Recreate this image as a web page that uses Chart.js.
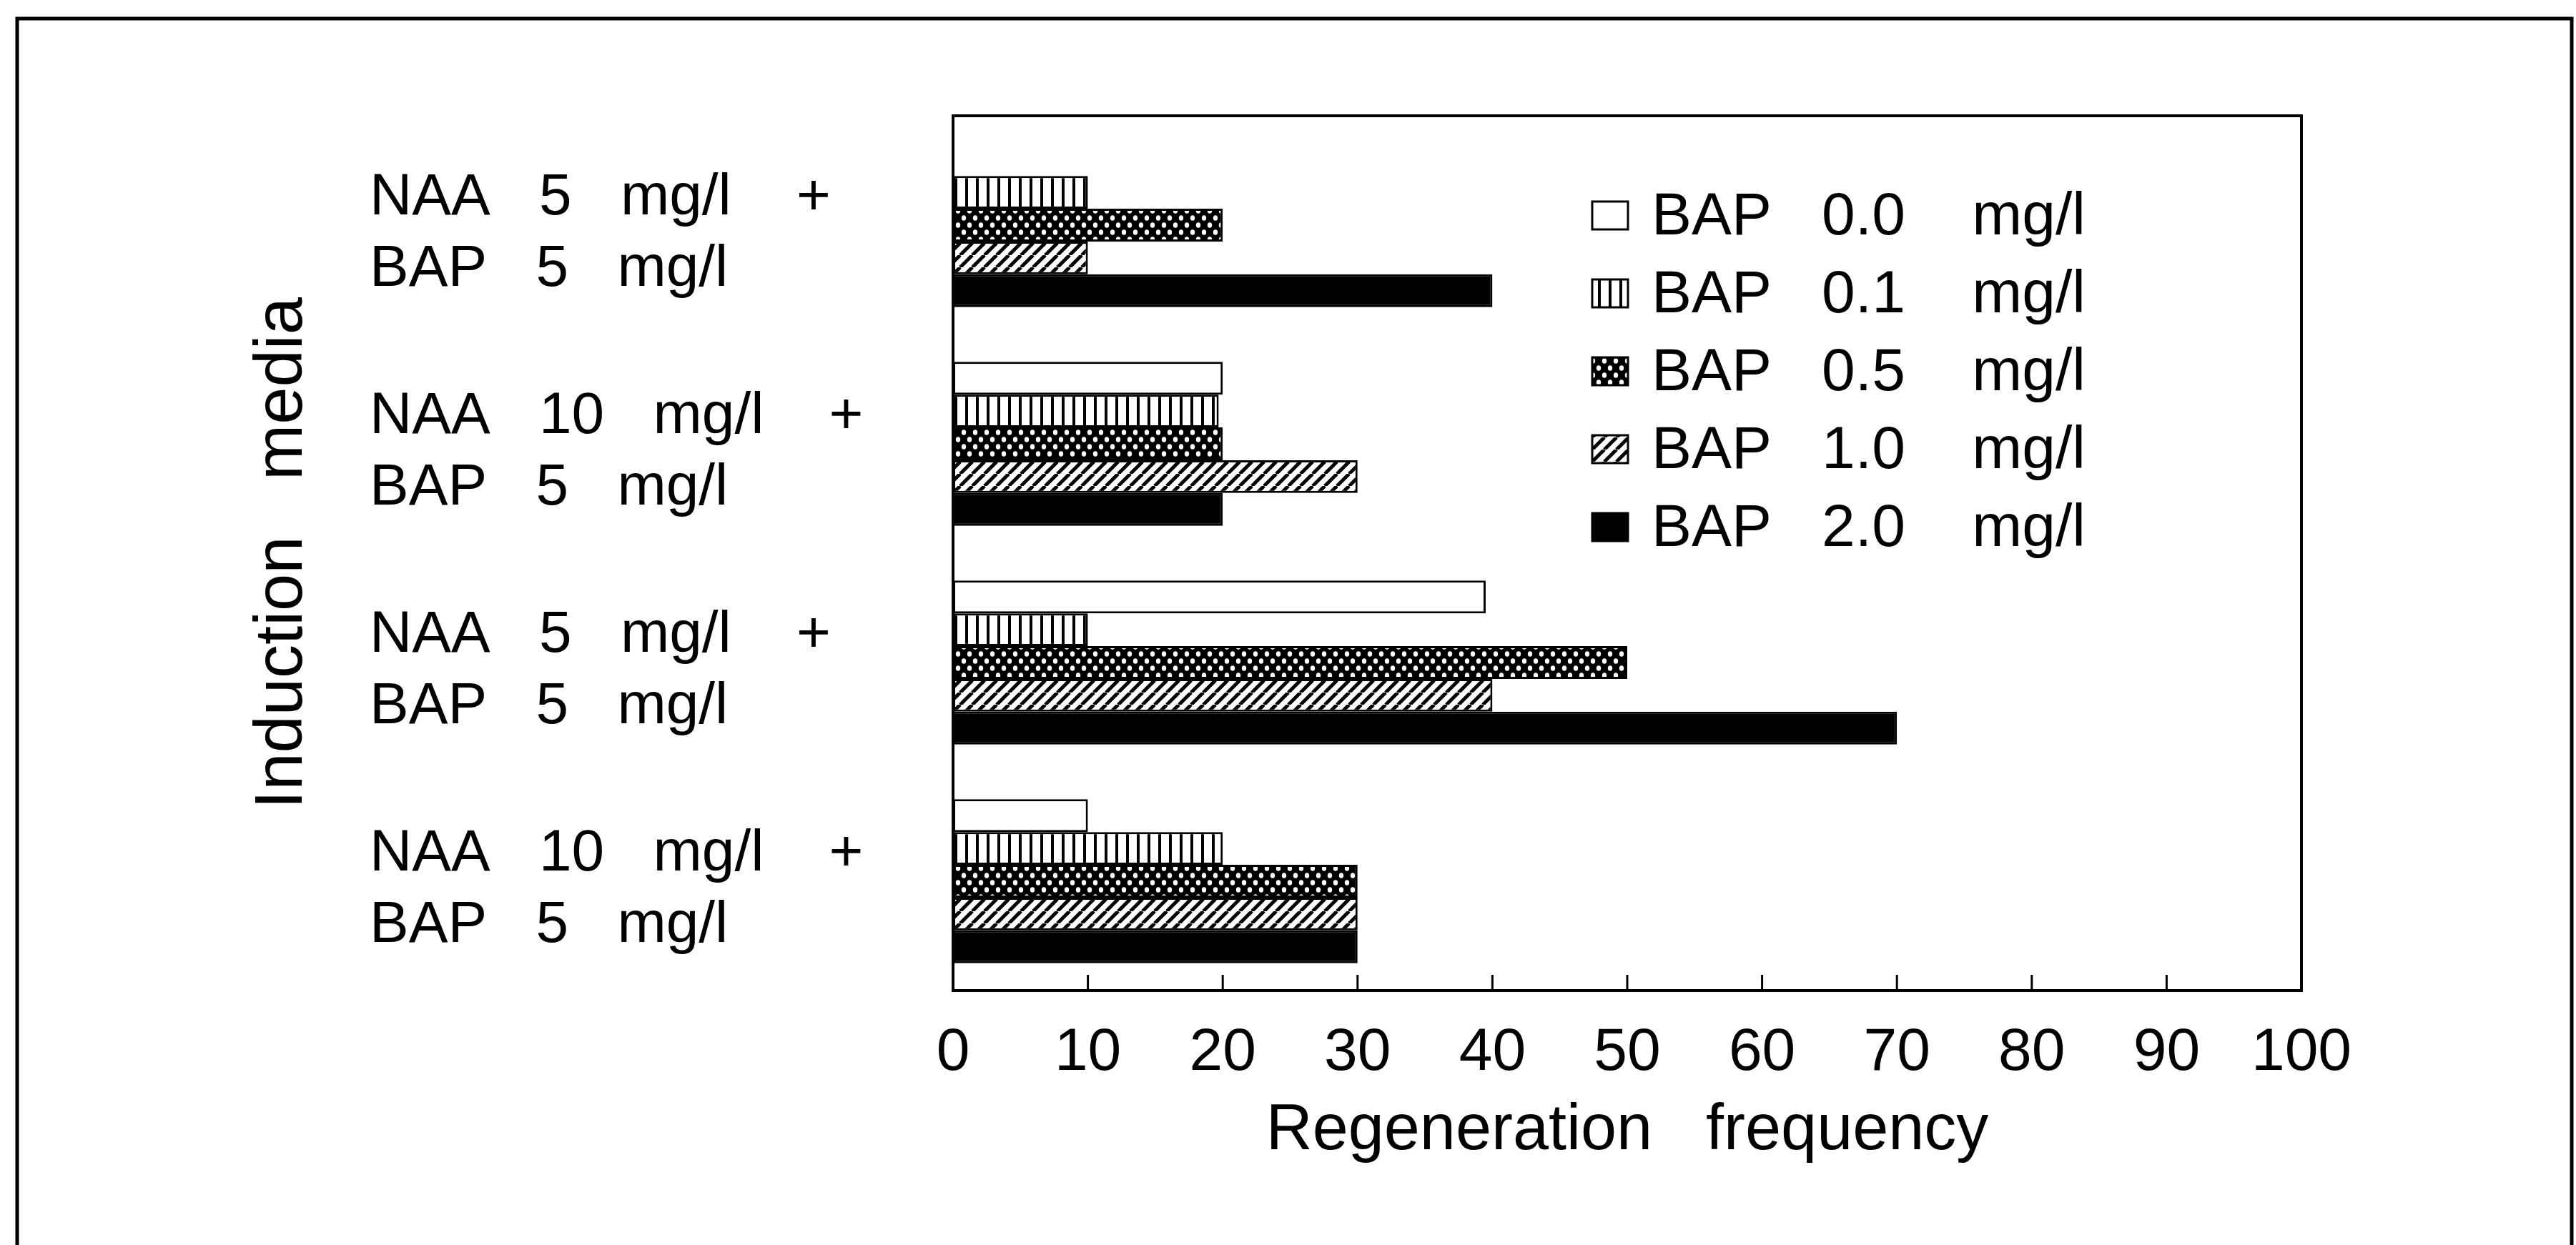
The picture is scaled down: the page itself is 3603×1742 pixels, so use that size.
<!DOCTYPE html>
<html>
<head>
<meta charset="utf-8">
<script src="https://cdn.jsdelivr.net/npm/chart.js@4.4.1/dist/chart.umd.min.js"></script>
<style>
html, body { margin: 0; padding: 0; background: #fff; overflow: hidden; }
canvas { display: block; }
</style>
</head>
<body>
<canvas id="c" width="3603" height="1742" style="width:3603px;height:1742px"></canvas>
<script>
// ---------- data ----------
const categories = [
  ['NAA   5   mg/l    +', 'BAP   5   mg/l'],
  ['NAA   10   mg/l    +', 'BAP   5   mg/l'],
  ['NAA   5   mg/l    +', 'BAP   5   mg/l'],
  ['NAA   10   mg/l    +', 'BAP   5   mg/l']
];
const seriesLabels = [
  'BAP   0.0    mg/l',
  'BAP   0.1    mg/l',
  'BAP   0.5    mg/l',
  'BAP   1.0    mg/l',
  'BAP   2.0    mg/l'
];
const bap00 = [0, 20, 39.5, 10];
const bap01 = [10, 19.7, 10, 20];
const bap05 = [20, 20, 50, 30];
const bap10 = [10, 30, 40, 30];
const bap20 = [40, 20, 70, 30];
const xTicks = [0, 10, 20, 30, 40, 50, 60, 70, 80, 90, 100];
const xTitle = 'Regeneration   frequency';
const yTitle = 'Induction   media';

// ---------- patterns ----------
function makePattern(type) {
  const c = document.createElement('canvas');
  const g = c.getContext('2d');
  if (type === 'white') {
    c.width = 4; c.height = 4; g.fillStyle = '#fff'; g.fillRect(0, 0, 4, 4);
  } else if (type === 'black') {
    c.width = 4; c.height = 4; g.fillStyle = '#000'; g.fillRect(0, 0, 4, 4);
  } else if (type === 'vlines') {
    c.width = 15; c.height = 15;
    g.fillStyle = '#fff'; g.fillRect(0, 0, 15, 15);
    g.fillStyle = '#000'; g.fillRect(0, 0, 4, 15);
  } else if (type === 'dots') {
    c.width = 16; c.height = 20;
    g.fillStyle = '#000'; g.fillRect(0, 0, 16, 20);
    g.fillStyle = '#fff';
    g.beginPath(); g.ellipse(4, 5, 3.2, 3.8, 0, 0, Math.PI * 2); g.fill();
    g.beginPath(); g.ellipse(12, 15, 3.2, 3.8, 0, 0, Math.PI * 2); g.fill();
  } else if (type === 'diag') {
    c.width = 17; c.height = 17;
    g.fillStyle = '#fff'; g.fillRect(0, 0, 17, 17);
    g.strokeStyle = '#000'; g.lineWidth = 5;
    for (const x0 of [-17, 0, 17]) {
      g.beginPath(); g.moveTo(x0, 17); g.lineTo(x0 + 17, 0); g.stroke();
    }
  }
  return c.getContext('2d').createPattern(c, 'repeat');
}

function draw() {
  const FONT = 'Liberation Sans';
  Chart.defaults.font.family = FONT;
  Chart.defaults.color = '#000';

  const fills = [makePattern('white'), makePattern('vlines'), makePattern('dots'), makePattern('diag'), makePattern('black')];
  const values = [bap00, bap01, bap05, bap10, bap20];

  const datasets = values.map((v, i) => ({
    label: seriesLabels[i],
    data: v,
    backgroundColor: fills[i],
    borderColor: '#000',
    borderWidth: 3,
    borderSkipped: false,
    categoryPercentage: 0.75,
    barPercentage: 1.0,
    xAxisID: 'x',
    yAxisID: 'y'
  }));

  const framePlugin = {
    id: 'frame',
    afterDraw(chart) {
      const ctx = chart.ctx;
      const a = chart.chartArea;
      ctx.save();
      ctx.strokeStyle = '#000';
      // outer frame (top, left, right)
      ctx.lineWidth = 5;
      ctx.beginPath();
      ctx.moveTo(24, 1742); ctx.lineTo(24, 26); ctx.lineTo(3597, 26); ctx.lineTo(3597, 1742);
      ctx.stroke();
      // plot box
      ctx.lineWidth = 4;
      ctx.strokeRect(a.left, a.top, a.right - a.left, a.bottom - a.top);
      // inward ticks on x axis
      const xs = chart.scales.x;
      ctx.lineWidth = 3;
      xs.ticks.forEach(t => {
        const px = xs.getPixelForValue(t.value);
        ctx.beginPath(); ctx.moveTo(px, a.bottom); ctx.lineTo(px, a.bottom - 22); ctx.stroke();
      });
      // legend inside the plot
      const lx = a.left + 894, tx = a.left + 977;
      const y0 = a.top + 140, dy = 109;
      ctx.font = '84px "' + FONT + '"';
      ctx.textBaseline = 'middle';
      ctx.textAlign = 'left';
      chart.data.datasets.forEach((ds, i) => {
        const cy = y0 + i * dy;
        ctx.fillStyle = ds.backgroundColor;
        ctx.fillRect(lx, cy - 20, 50, 39);
        ctx.lineWidth = 3;
        ctx.strokeRect(lx, cy - 20, 50, 39);
        ctx.fillStyle = '#000';
        ctx.fillText(ds.label, tx, cy + 3);
      });
      ctx.restore();
    }
  };

  new Chart(document.getElementById('c'), {
    type: 'bar',
    data: { labels: categories, datasets },
    options: {
      indexAxis: 'y',
      responsive: false,
      animation: false,
      devicePixelRatio: 1,
      layout: { padding: { top: 162, right: 384, bottom: 0, left: 0 } },
      plugins: { legend: { display: false }, tooltip: { enabled: false } },
      scales: {
        x: {
          type: 'linear', position: 'bottom', min: 0, max: 100,
          afterBuildTicks: s => { s.ticks = xTicks.map(v => ({ value: v })); },
          grid: { display: false, drawTicks: false },
          border: { display: false },
          ticks: { font: { size: 84 }, color: '#000', padding: 37, maxRotation: 0, autoSkip: false },
          title: { display: true, text: xTitle, font: { size: 90 }, color: '#000', padding: { top: 0, bottom: 105 } },
          afterFit: s => { s.height = 356; }
        },
        y: {
          type: 'category', position: 'left', weight: 0,
          grid: { display: false, drawTicks: false },
          border: { display: false },
          ticks: { crossAlign: 'far', font: { size: 82, lineHeight: 1.22 }, color: '#000', padding: 0, labelOffset: 12 },
          afterFit: s => { s.width = 816; }
        },
        yt: {
          type: 'category', position: 'left', weight: 1, axis: 'y',
          grid: { display: false, drawTicks: false },
          border: { display: false },
          ticks: { display: false },
          title: { display: true, text: yTitle, font: { size: 94 }, color: '#000', padding: { top: 340, bottom: 0 } },
          afterFit: s => { s.width = 517; }
        }
      }
    },
    plugins: [framePlugin]
  });
}

if (document.fonts && document.fonts.load) {
  Promise.all([document.fonts.load('78px "Liberation Sans"')]).then(draw, draw);
} else { draw(); }
</script>
</body>
</html>
